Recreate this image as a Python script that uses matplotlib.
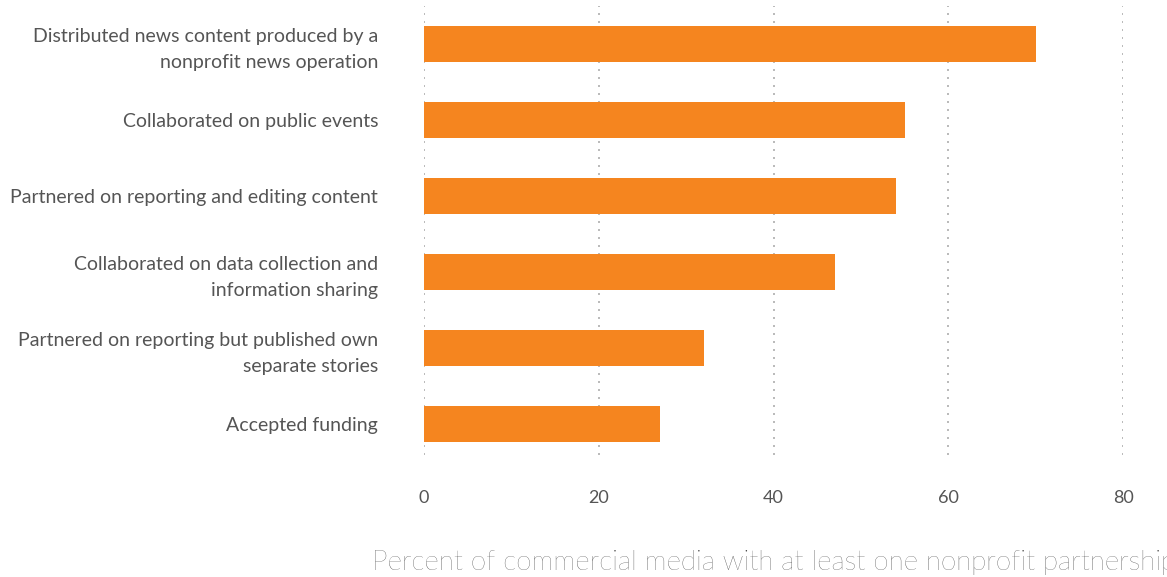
import matplotlib
matplotlib.use("Agg")
import matplotlib.pyplot as plt

# data
categories = [
    "Distributed news content produced by a\nnonprofit news operation",
    "Collaborated on public events",
    "Partnered on reporting and editing content",
    "Collaborated on data collection and\ninformation sharing",
    "Partnered on reporting but published own\nseparate stories",
    "Accepted funding",
]
values = [70, 55, 54, 47, 32, 27]
x_ticks = [0, 20, 40, 60, 80]

bar_color = "#F5851F"
text_color = "#555555"
grid_color = "#BBBBBB"

plt.rcParams["font.family"] = ["Lato", "DejaVu Sans"]

fig = plt.figure(figsize=(11.67, 5.77), dpi=100)
ax = fig.add_axes([424 / 1167, 1 - 455 / 577, (1123 - 424) / 1167, (455 - 6) / 577])

positions = list(range(len(categories)))
ax.barh(positions, values, height=0.47, color=bar_color, zorder=2)

ax.set_xlim(0, 80)
ax.set_ylim(5.41, -0.5)
ax.set_xticks(x_ticks)
ax.set_yticks(positions)
ax.set_yticklabels(categories, linespacing=1.6)

ax.grid(axis="x", color=grid_color, linewidth=1.44, linestyle=(0, (1, 3)), zorder=1)
ax.grid(axis="y", visible=False)
for side in ax.spines.values():
    side.set_visible(False)

ax.tick_params(axis="y", length=0, pad=33, labelsize=14, labelcolor=text_color)
ax.tick_params(axis="x", length=0, pad=25, labelsize=13, labelcolor=text_color)

# the reference clips this label at the right edge of the figure
ax.set_xlabel("Percent of commercial media with at least one nonprofit partnership",
              fontsize=20, fontweight="light", color="#333333", labelpad=32)

fig.savefig("out.png", dpi=100)
